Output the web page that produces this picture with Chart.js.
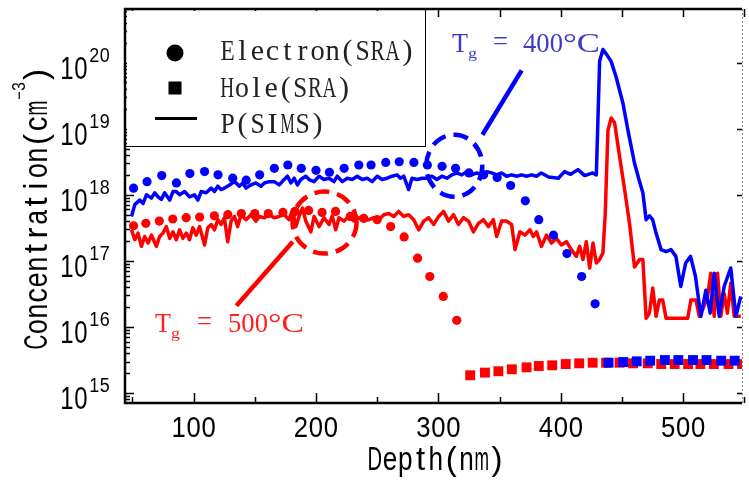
<!DOCTYPE html>
<html>
<head>
<meta charset="utf-8">
<script src="https://cdn.jsdelivr.net/npm/chart.js@4/dist/chart.umd.min.js"></script>
<style>
    body { margin: 0; background: #fff; }
    canvas { display: block; }
</style>
</head>
<body>
<canvas id="grafico" width="749" height="484"></canvas>
<script>
// profundidad en nm, concentracion en cm^-3
const elec400Depth = [51, 62, 74, 86, 97, 109, 120, 132, 143, 154, 166, 177, 188, 200, 211, 223, 235, 245, 257, 268,
    280, 291, 303, 314, 325, 337, 348, 359, 371, 382, 394, 405, 417, 428];
const elec400Conc = [1.26e18, 1.58e18, 1.95e18, 1.51e18, 2.09e18, 2.24e18, 2.0e18, 1.78e18, 1.66e18, 2.0e18,
    2.51e18, 2.82e18, 2.51e18, 2.34e18, 2.19e18, 2.51e18, 2.82e18, 2.82e18, 3.09e18, 3.16e18,
    3.09e18, 2.82e18, 2.69e18, 2.51e18, 2.14e18, 2.0e18, 1.82e18, 1.38e18, 8.1e17, 4.2e17,
    2.45e17, 1.29e17, 5.8e16, 2.24e16];

const elec500Depth = [51, 61, 72, 83, 94, 105, 117, 128, 139, 150, 161, 173, 183, 194, 205, 216, 228, 239, 250, 261,
    272, 283, 293, 304, 315];
const elec500Conc = [3.4e17, 3.7e17, 4.0e17, 4.3e17, 4.5e17, 4.6e17, 4.8e17, 5.0e17, 5.2e17, 5.2e17,
    5.2e17, 5.4e17, 5.6e17, 5.8e17, 5.4e17, 5.6e17, 4.7e17, 4.4e17, 4.2e17, 3.3e17,
    2.3e17, 1.1e17, 5.8e16, 2.9e16, 1.26e16];

const hole500Depth = [326, 338, 349, 360, 372, 382, 393, 404, 415, 426, 437, 448, 459, 471, 482, 493, 504, 514, 525, 537, 548];
const hole500Conc = [1.86e15, 2.04e15, 2.14e15, 2.29e15, 2.45e15, 2.57e15, 2.63e15, 2.75e15, 2.82e15, 2.88e15,
    2.88e15, 2.88e15, 2.82e15, 2.82e15, 2.75e15, 2.75e15, 2.75e15, 2.75e15, 2.75e15, 2.75e15, 2.75e15];

const hole400Depth = [439, 451, 462, 473, 485, 496, 508, 519, 531, 542];
const hole400Conc = [2.88e15, 2.95e15, 3.02e15, 3.09e15, 3.16e15, 3.16e15, 3.16e15, 3.16e15, 3.09e15, 3.09e15];

const sims400Depth = [49.3, 52, 56, 58.8, 61.5, 65.6, 68.3, 71, 73.7, 76.4, 80.5, 83.2, 85.9, 88.6, 92.7, 96.7,
    100.8, 103.5, 106.3, 110.3, 114.4, 117.1, 119.8, 122.5, 125.2, 129.3, 133.4, 137.4, 140.1, 142.9,
    146.9, 151, 155.1, 157.8, 161.8, 165.9, 170, 174, 176.7, 179.5, 182.2, 184.9, 187.6, 191.7, 194.4,
    198.5, 202.5, 206.6, 210.7, 214.7, 217.4, 221.5, 225.6, 229.6, 233.7, 237.8, 241.8, 245.9, 250,
    254, 258.1, 262.2, 266.2, 269, 271.7, 275.7, 278.4, 282.5, 286.6, 290.6, 294.7, 298.8, 302.8,
    306.9, 311, 315.1, 319.1, 323.2, 327.3, 331.3, 335.4, 339.5, 343.5, 347.6, 351.7, 355.7, 359.8,
    363.9, 367.9, 372, 376.1, 380.2, 384, 390, 398, 403, 408, 414, 419.5, 426, 429,
    431.7, 434.4, 437.5, 441, 445, 450.7, 454.8, 460.2, 464, 467, 469.7, 472.4, 475, 477.8, 481.9,
    486, 490, 494, 498, 502, 506, 510, 514.4, 518.5, 522, 525.3, 529.4, 533.4, 538.8, 543, 547];
const sims400Conc = [4.7e17, 7.1e17, 8.3e17, 7.4e17, 1.0e18, 8.9e17, 1.07e18, 9.3e17, 8.5e17, 1.07e18, 8.3e17,
    1.12e18, 1.12e18, 1.0e18, 1.12e18, 9.3e17, 1.0e18, 8.3e17, 1.12e18, 1.07e18, 1.26e18, 1.12e18,
    1.35e18, 1.2e18, 1.26e18, 1.41e18, 1.58e18, 1.35e18, 1.51e18, 1.26e18, 1.41e18, 1.51e18, 1.35e18,
    1.51e18, 1.58e18, 1.58e18, 1.41e18, 1.7e18, 1.91e18, 1.51e18, 1.78e18, 1.41e18, 1.7e18, 1.91e18,
    1.7e18, 1.58e18, 1.91e18, 1.7e18, 1.78e18, 1.58e18, 1.91e18, 1.58e18, 1.78e18, 1.7e18, 1.91e18,
    1.7e18, 1.78e18, 1.58e18, 1.91e18, 1.7e18, 1.78e18, 1.91e18, 2.0e18, 1.78e18, 1.91e18, 1.2e18,
    1.78e18, 1.7e18, 1.78e18, 1.78e18, 1.91e18, 1.7e18, 1.91e18, 1.78e18, 2.0e18, 2.14e18, 2.0e18,
    2.24e18, 2.0e18, 2.14e18, 2.0e18, 2.24e18, 2.14e18, 2.0e18, 2.14e18, 1.91e18, 2.0e18, 1.91e18,
    2.0e18, 1.91e18, 2.0e18, 1.91e18, 2.14e18, 1.86e18, 1.78e18, 2.24e18, 2.04e18, 2.4e18, 1.95e18,
    2.14e18, 2.0e18, 1.05e20, 1.58e20, 1.32e20, 1.05e20, 6.2e19, 2.45e19, 9.5e18, 3.0e18, 1.66e18,
    1.07e18, 4.2e17, 4.8e17, 4.2e17, 2.63e17, 1.48e17, 1.38e17, 1.48e17, 1.17e17, 4.1e16, 9.3e16,
    1.17e17, 5.8e16, 1.45e16, 3.6e16, 1.62e16, 6.5e16, 1.45e16, 4.1e16, 7.8e16, 1.45e16, 2.9e16];

const sims500Depth = [49.3, 52, 54.7, 57.4, 60.1, 62.8, 65.6, 69.6, 72.3, 75, 77.8, 80.5, 83.2, 85.9, 88.6, 91.3,
    94.1, 96.7, 99.4, 102.2, 104.9, 109, 111.6, 114.4, 117.1, 119.8, 122.5, 125.2, 127.9, 130.7, 133.4,
    136, 138.8, 142.9, 146.9, 151, 153.7, 157.8, 161.8, 165.9, 170, 174, 178.1, 180.8, 183.6, 186.2,
    189, 191.7, 195.8, 198.5, 202.5, 206.6, 210.7, 213.3, 216.1, 218.8, 222.9, 226.9, 231, 235.1,
    239.1, 243.2, 247.3, 251.3, 255.4, 259.5, 263.5, 267.6, 271.7, 275.7, 279.8, 283.9, 288, 292,
    296.1, 300.2, 304.2, 308.3, 312.4, 316.4, 320.5, 324.6, 328.6, 332.7, 336.8, 340.8, 344.9, 347.6,
    351.7, 355.7, 359.8, 362.6, 366.6, 370.7, 374.8, 377.5, 380.2, 384.2, 388.3, 392.4, 396.4, 400.5,
    404.6, 408.6, 412.7, 415.4, 418.1, 420.8, 423.6, 426.3, 429, 431.7, 434.4, 436.3, 438.5, 441.2,
    443.9, 448, 452.1, 456.1, 460.2, 464.3, 467, 469.7, 472.4, 475.1, 477.8, 480.5, 483.2, 486,
    503.6, 506.3, 510.4, 513.1, 515.8, 519.9, 522.5, 525.3, 528, 530.7, 533.4, 536.1, 538.8, 541.6, 547];
const sims500Conc = [2.95e17, 2.09e17, 2.63e17, 1.66e17, 2.34e17, 1.86e17, 2.45e17, 1.66e17, 2.34e17, 2.63e17,
    3.3e17, 2.19e17, 2.75e17, 2.09e17, 2.95e17, 2.19e17, 2.63e17, 2.09e17, 3.16e17, 2.45e17, 3.3e17,
    1.74e17, 3.16e17, 3.55e17, 2.95e17, 4.2e17, 3.55e17, 4.5e17, 1.95e17, 4.0e17, 4.7e17, 3.3e17,
    5.0e17, 4.2e17, 5.0e17, 4.0e17, 4.7e17, 4.5e17, 5.0e17, 4.5e17, 4.7e17, 5.0e17, 4.2e17, 5.9e17,
    3.3e17, 4.7e17, 6.3e17, 4.0e17, 2.75e17, 4.7e17, 3.3e17, 4.5e17, 3.55e17, 4.8e17, 2.95e17, 4.5e17,
    4.0e17, 4.7e17, 4.0e17, 4.5e17, 4.0e17, 4.2e17, 4.5e17, 4.2e17, 5.0e17, 5.2e17, 4.7e17, 5.6e17,
    4.7e17, 5.0e17, 4.2e17, 2.95e17, 4.0e17, 4.5e17, 3.55e17, 4.7e17, 5.6e17, 4.0e17, 5.0e17, 3.55e17,
    4.5e17, 4.0e17, 2.75e17, 3.7e17, 4.2e17, 3.3e17, 4.2e17, 2.34e17, 4.0e17, 4.0e17, 3.55e17, 1.48e17,
    2.75e17, 2.45e17, 2.95e17, 2.34e17, 2.75e17, 1.66e17, 2.45e17, 1.86e17, 2.19e17, 1.74e17, 1.95e17,
    1.48e17, 1.17e17, 1.66e17, 1.05e17, 1.95e17, 7.8e16, 1.86e17, 9.3e16, 1.05e17, 1.32e17, 5.2e17,
    9.5e18, 1.45e19, 1.23e19, 3.8e18, 1.2e18, 3.7e17, 8.1e16, 1.05e17, 1.05e17, 1.35e16, 1.62e16,
    3.9e16, 1.45e16, 2.57e16, 2.57e16, 1.35e16, 1.35e16, 2.57e16, 2.57e16, 1.45e16, 1.82e16, 2.9e16,
    6.5e16, 1.45e16, 6.5e16, 1.45e16, 3.2e16, 1.62e16, 4.6e16, 1.45e16, 1.45e16];

// ejes
const depthMin = 44, depthMax = 548;
const concMin = 7.08e14, concMax = 6.46e20;
const xTicks = [100, 200, 300, 400, 500];
const xMinorTicks = [50, 150, 250, 350, 450, 550];
const yDecades = [15, 16, 17, 18, 19, 20];

const AZUL = "#0000ff";
const ROJO = "#ff0000";

function puntos(xs, ys) {
    return xs.map((x, i) => ({ x: x, y: ys[i] }));
}

// texto de ancho fijo por caracter
function textoMono(ctx, str, x, y, celda, font) {
    ctx.font = font;
    ctx.textAlign = "center";
    ctx.textBaseline = "alphabetic";
    for (let i = 0; i < str.length; i++) {
        let w = ctx.measureText(str[i]).width;
        let s = Math.min(1, celda * 0.95 / w);
        ctx.save();
        ctx.translate(x + celda * (i + 0.5), y);
        ctx.scale(s, 1);
        ctx.fillText(str[i], 0, 0);
        ctx.restore();
    }
}

// texto estirado a un ancho dado
function textoAjustado(ctx, str, x, y, ancho, font) {
    ctx.font = font;
    ctx.textAlign = "left";
    ctx.textBaseline = "alphabetic";
    let w = ctx.measureText(str).width;
    ctx.save();
    ctx.translate(x, y);
    ctx.scale(ancho / w, 1);
    ctx.fillText(str, 0, 0);
    ctx.restore();
}

const marcoEjes = {
    id: "marcoEjes",
    afterDraw(chart) {
        const ctx = chart.ctx;
        const a = chart.chartArea;
        const xs = chart.scales.x, ys = chart.scales.y;
        ctx.save();
        ctx.strokeStyle = "#000";

        // marcas del eje y (log)
        ctx.lineWidth = 1.5;
        ctx.beginPath();
        for (let d = 14; d <= 20; d++) {
            for (let k = 1; k <= 9; k++) {
                let v = k * Math.pow(10, d);
                if (v < concMin || v > concMax) continue;
                let py = Math.round(ys.getPixelForValue(v)) + 0.5;
                let largo = k === 1 ? 9 : 5;
                ctx.moveTo(a.left, py);
                ctx.lineTo(a.left + largo, py);
                if (k === 1) {
                    ctx.moveTo(a.right, py);
                    ctx.lineTo(a.right - 5, py);
                }
            }
        }
        // marcas del eje x
        xTicks.forEach(t => {
            let px = Math.round(xs.getPixelForValue(t)) + 0.5;
            ctx.moveTo(px, a.bottom);
            ctx.lineTo(px, a.bottom - 10);
            ctx.moveTo(px, a.top);
            ctx.lineTo(px, a.top + 8);
        });
        xMinorTicks.forEach(t => {
            let px = Math.round(xs.getPixelForValue(t)) + 0.5;
            ctx.moveTo(px, a.bottom);
            ctx.lineTo(px, a.bottom - 6);
            ctx.moveTo(px, a.top);
            ctx.lineTo(px, a.top + 8);
        });
        ctx.stroke();

        // borde derecho punteado
        ctx.strokeStyle = "#888";
        ctx.lineWidth = 1;
        ctx.setLineDash([2, 2]);
        ctx.beginPath();
        ctx.moveTo(a.right + 0.5, a.top);
        ctx.lineTo(a.right + 0.5, a.bottom);
        ctx.stroke();
        ctx.setLineDash([]);

        // bordes izquierdo, superior e inferior
        ctx.strokeStyle = "#000";
        ctx.lineWidth = 2.5;
        ctx.beginPath();
        ctx.moveTo(a.right, a.top);
        ctx.lineTo(a.left, a.top);
        ctx.lineTo(a.left, a.bottom);
        ctx.lineTo(a.right, a.bottom);
        ctx.stroke();

        // etiquetas
        ctx.fillStyle = "#000";
        xTicks.forEach(t => {
            let px = xs.getPixelForValue(t);
            let s = String(t);
            textoMono(ctx, s, px - s.length * 15 / 2, 437, 15, "30px 'Liberation Sans'");
        });
        yDecades.forEach(d => {
            let py = ys.getPixelForValue(Math.pow(10, d));
            textoMono(ctx, "10", 60, py + 16, 14, "32px 'Liberation Sans'");
            textoMono(ctx, String(d), 89, py - 1, 10.5, "20px 'Liberation Sans'");
        });

        // titulos
        textoMono(ctx, "Depth(nm)", 367, 470, 15.3, "33px 'Liberation Sans'");
        ctx.save();
        ctx.translate(47, 350);
        ctx.rotate(-Math.PI / 2);
        textoMono(ctx, "Concentration(cm", 0, 0, 15.6, "33px 'Liberation Sans'");
        textoMono(ctx, "\u22123", 250, -22, 9, "18px 'Liberation Sans'");
        textoMono(ctx, ")", 268, 0, 15, "33px 'Liberation Sans'");
        ctx.restore();
        ctx.restore();
    }
};

const leyenda = {
    id: "leyenda",
    afterDraw(chart) {
        const ctx = chart.ctx;
        const a = chart.chartArea;
        ctx.save();
        ctx.fillStyle = "#fff";
        ctx.fillRect(a.left + 2, a.top + 2, 425 - a.left - 2, 146 - a.top - 2);
        ctx.strokeStyle = "#000";
        ctx.lineWidth = 1;
        ctx.strokeRect(a.left + 0.5, a.top + 0.5, 425 - a.left, 146 - a.top);

        ctx.fillStyle = "#000";
        ctx.beginPath();
        ctx.arc(175, 53, 8.5, 0, Math.PI * 2);
        ctx.fill();
        ctx.fillRect(168.5, 81.5, 13, 13);
        ctx.strokeStyle = "#000";
        ctx.lineWidth = 3;
        ctx.beginPath();
        ctx.moveTo(155, 118.5);
        ctx.lineTo(197, 118.5);
        ctx.stroke();

        ctx.fillStyle = "#222";
        let f = "30px 'Liberation Serif'";
        textoMono(ctx, "Electron(SRA)", 220, 60, 15, f);
        textoMono(ctx, "Hole(SRA)", 220, 97, 14.6, f);
        textoMono(ctx, "P(SIMS)", 220, 133, 15, f);
        ctx.restore();
    }
};

// circulos punteados, lineas y textos de temperatura
const notas = {
    id: "notas",
    afterDatasetsDraw(chart) {
        const ctx = chart.ctx;
        const xs = chart.scales.x, ys = chart.scales.y;
        ctx.save();
        ctx.lineWidth = 4.5;

        ctx.strokeStyle = AZUL;
        ctx.setLineDash([15, 8]);
        ctx.beginPath();
        ctx.ellipse(xs.getPixelForValue(313), ys.getPixelForValue(2.75e18), 28, 31, 0, 0, Math.PI * 2);
        ctx.stroke();
        ctx.setLineDash([]);
        ctx.beginPath();
        ctx.moveTo(xs.getPixelForValue(336), ys.getPixelForValue(8.1e18));
        ctx.lineTo(xs.getPixelForValue(368), ys.getPixelForValue(7.6e19));
        ctx.stroke();

        ctx.strokeStyle = ROJO;
        ctx.setLineDash([15, 8]);
        ctx.beginPath();
        ctx.ellipse(xs.getPixelForValue(207), ys.getPixelForValue(3.8e17), 32, 31, 0, 0, Math.PI * 2);
        ctx.stroke();
        ctx.setLineDash([]);
        ctx.beginPath();
        ctx.moveTo(xs.getPixelForValue(181), ys.getPixelForValue(1.95e17));
        ctx.lineTo(xs.getPixelForValue(135), ys.getPixelForValue(2.1e16));
        ctx.stroke();

        let f = "27px 'Liberation Serif'";
        let fs = "15px 'Liberation Serif'";
        ctx.fillStyle = "#3c3cc8";
        textoAjustado(ctx, "T", 452, 52, 16, f);
        textoAjustado(ctx, "g", 468, 58, 9, fs);
        textoAjustado(ctx, "=", 493, 50, 15, f);
        textoAjustado(ctx, "400", 523, 52, 40, f);
        textoAjustado(ctx, "\u00b0C", 563, 52, 37, f);

        ctx.fillStyle = "#ff2020";
        textoAjustado(ctx, "T", 155, 332, 16, f);
        textoAjustado(ctx, "g", 171, 338, 9, fs);
        textoAjustado(ctx, "=", 197, 330, 15, f);
        textoAjustado(ctx, "500", 228, 332, 40, f);
        textoAjustado(ctx, "\u00b0C", 268, 332, 36, f);
        ctx.restore();
    }
};

new Chart(document.getElementById("grafico"), {
    type: "line",
    data: {
        datasets: [
            {
                label: "Hole(SRA) 400",
                data: puntos(hole400Depth, hole400Conc),
                showLine: false,
                pointStyle: "rect",
                pointRadius: 7,
                pointBorderWidth: 0,
                backgroundColor: AZUL
            },
            {
                label: "Hole(SRA) 500",
                data: puntos(hole500Depth, hole500Conc),
                showLine: false,
                pointStyle: "rect",
                pointRadius: 7,
                pointBorderWidth: 0,
                backgroundColor: ROJO
            },
            {
                label: "Electron(SRA) 400",
                data: puntos(elec400Depth, elec400Conc),
                showLine: false,
                pointRadius: 4.6,
                pointBorderWidth: 0,
                backgroundColor: AZUL
            },
            {
                label: "Electron(SRA) 500",
                data: puntos(elec500Depth, elec500Conc),
                showLine: false,
                pointRadius: 4.6,
                pointBorderWidth: 0,
                backgroundColor: ROJO
            },
            {
                label: "P(SIMS) 400",
                data: puntos(sims400Depth, sims400Conc),
                borderColor: AZUL,
                borderWidth: 3.5,
                borderJoinStyle: "round",
                pointRadius: 0,
                tension: 0
            },
            {
                label: "P(SIMS) 500",
                data: puntos(sims500Depth, sims500Conc),
                borderColor: ROJO,
                borderWidth: 3.5,
                borderJoinStyle: "round",
                pointRadius: 0,
                tension: 0
            }
        ]
    },
    options: {
        responsive: false,
        animation: false,
        layout: { padding: { left: 125, right: 6, top: 9, bottom: 81 } },
        plugins: {
            legend: { display: false },
            tooltip: { enabled: false }
        },
        scales: {
            x: { type: "linear", min: depthMin, max: depthMax, display: false },
            y: { type: "logarithmic", min: concMin, max: concMax, display: false }
        }
    },
    plugins: [notas, marcoEjes, leyenda]
});
</script>
</body>
</html>
